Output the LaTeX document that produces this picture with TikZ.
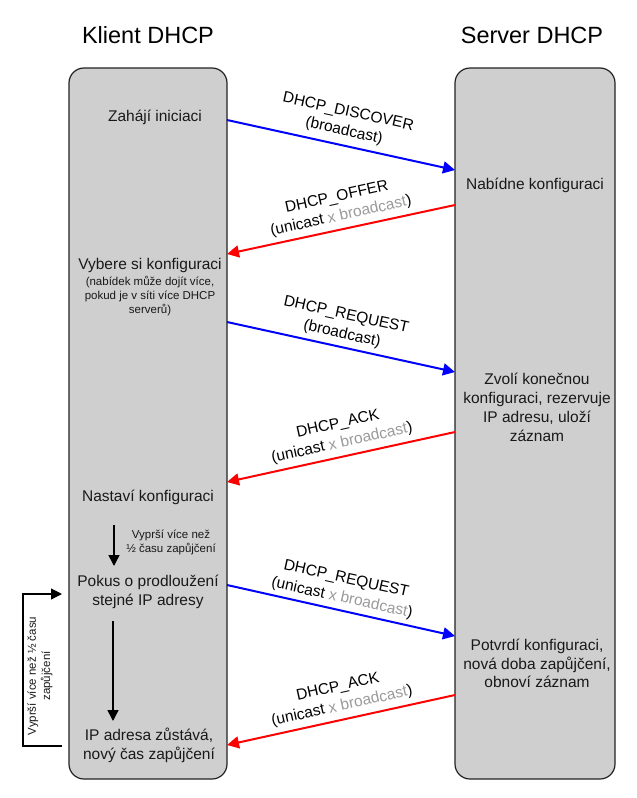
\documentclass[tikz,border=0pt]{standalone}
\usepackage{fontspec}
\setmainfont{Liberation Sans}
\usetikzlibrary{arrows.meta}
\definecolor{boxgray}{HTML}{CFCFCF}
\definecolor{txtgray}{HTML}{9A9A9A}
\definecolor{edge}{HTML}{222222}
\begin{document}
\begin{tikzpicture}[x=1pt,y=-1pt,
  lane/.style={draw=edge, fill=boxgray, line width=1.2pt, rounded corners=15pt, inner sep=0pt},
  title/.style={font=\fontsize{23.5}{27}\selectfont, inner sep=0pt},
  main/.style={font=\fontsize{15.5}{18.8}\selectfont, align=center, inner sep=0pt, text=black!90},
  small/.style={font=\fontsize{11.5}{14.2}\selectfont, align=center, inner sep=0pt, text=black!90},
  msg/.style={font=\fontsize{15.5}{19.5}\selectfont, align=center, inner sep=0pt, rotate=#1},
  bluearr/.style={draw=blue, line width=2pt, -{Triangle[length=12pt,width=12pt]}},
  redarr/.style={draw=red, line width=2pt, -{Triangle[length=12pt,width=12pt]}},
  blackarr/.style={draw=black, line width=1.5pt, -{Triangle[length=11pt,width=11pt]}},
  loopline/.style={draw=black, line width=1.2pt, -{Triangle[length=11pt,width=11pt]}}
]
\useasboundingbox (0,0) rectangle (637,798);

% titles
\node[title] (tclient) at (148,35) {Klient DHCP};
\node[title] (tserver) at (532,35) {Server DHCP};

% lanes
\node[lane, minimum width=158pt, minimum height=711pt] (client) at (148,423.5) {};
\node[lane, minimum width=160pt, minimum height=711pt] (server) at (535,423.5) {};

% client texts
\node[main] (zahaji) at (155,117) {Zahájí iniciaci};
\node[main] (vybere) at (150,265) {Vybere si konfiguraci};
\node[small] (vyberenote) at (150,296) {(nabídek může dojít více,\\pokud je v síti více DHCP\\serverů)};
\node[main] (nastavi) at (148,497) {Nastaví konfiguraci};
\node[small] (vyprsi) at (171,542.5) {Vyprší více než\\½ času zapůjčení};
\node[main] (pokus) at (148,592) {Pokus o prodloužení\\stejné IP adresy};
\node[main] (zustava) at (149,745) {IP adresa zůstává,\\nový čas zapůjčení};

% server texts
\node[main] (nabidne) at (535,185) {Nabídne konfiguraci};
\node[main] (zvoli) at (537,407.5) {Zvolí konečnou\\konfiguraci, rezervuje\\IP adresu, uloží\\záznam};
\node[main] (potvrdi) at (537,663.5) {Potvrdí konfiguraci,\\nová doba zapůjčení,\\obnoví záznam};

% message endpoints
\coordinate (c1) at (227,120); \coordinate (s1) at (455,170);
\coordinate (s2) at (455,205); \coordinate (c2) at (227,254);
\coordinate (c3) at (227,322); \coordinate (s3) at (455,372);
\coordinate (s4) at (455,432); \coordinate (c4) at (227,482);
\coordinate (c5) at (227,585); \coordinate (s5) at (455,636);
\coordinate (s6) at (455,695); \coordinate (c6) at (227,745);

\draw[bluearr] (c1) -- (s1);
\draw[redarr] (s2) -- (c2);
\draw[bluearr] (c3) -- (s3);
\draw[redarr] (s4) -- (c4);
\draw[bluearr] (c5) -- (s5);
\draw[redarr] (s6) -- (c6);

% message labels
\node[msg=-12.4] (l1) at (346,122) {DHCP\_DISCOVER\\(broadcast)};
\node[msg=12.4] (l2) at (339,207) {DHCP\_OFFER\\(unicast \textcolor{txtgray}{x broadcast})};
\node[msg=-12.4] (l3) at (344,325) {DHCP\_REQUEST\\(broadcast)};
\node[msg=12.4] (l4) at (340,434) {DHCP\_ACK\\(unicast \textcolor{txtgray}{x broadcast})};
\node[msg=-12.4] (l5) at (344,589) {DHCP\_REQUEST\\(unicast \textcolor{txtgray}{x broadcast})};
\node[msg=12.4] (l6) at (340,697) {DHCP\_ACK\\(unicast \textcolor{txtgray}{x broadcast})};

% internal client arrows
\coordinate (a1s) at (114,525); \coordinate (a1e) at (114,566);
\coordinate (a2s) at (113,621); \coordinate (a2e) at (113,721);
\draw[blackarr] (a1s) -- (a1e);
\draw[blackarr] (a2s) -- (a2e);

% feedback loop
\coordinate (fb1) at (62,746); \coordinate (fb2) at (62,594);
\draw[loopline] (fb1) -- (23,746) -- (23,594) -- (fb2);
\node[small, rotate=90] (looplabel) at (40,676) {Vyprší více než ½ času\\zapůjčení};
\end{tikzpicture}
\end{document}
